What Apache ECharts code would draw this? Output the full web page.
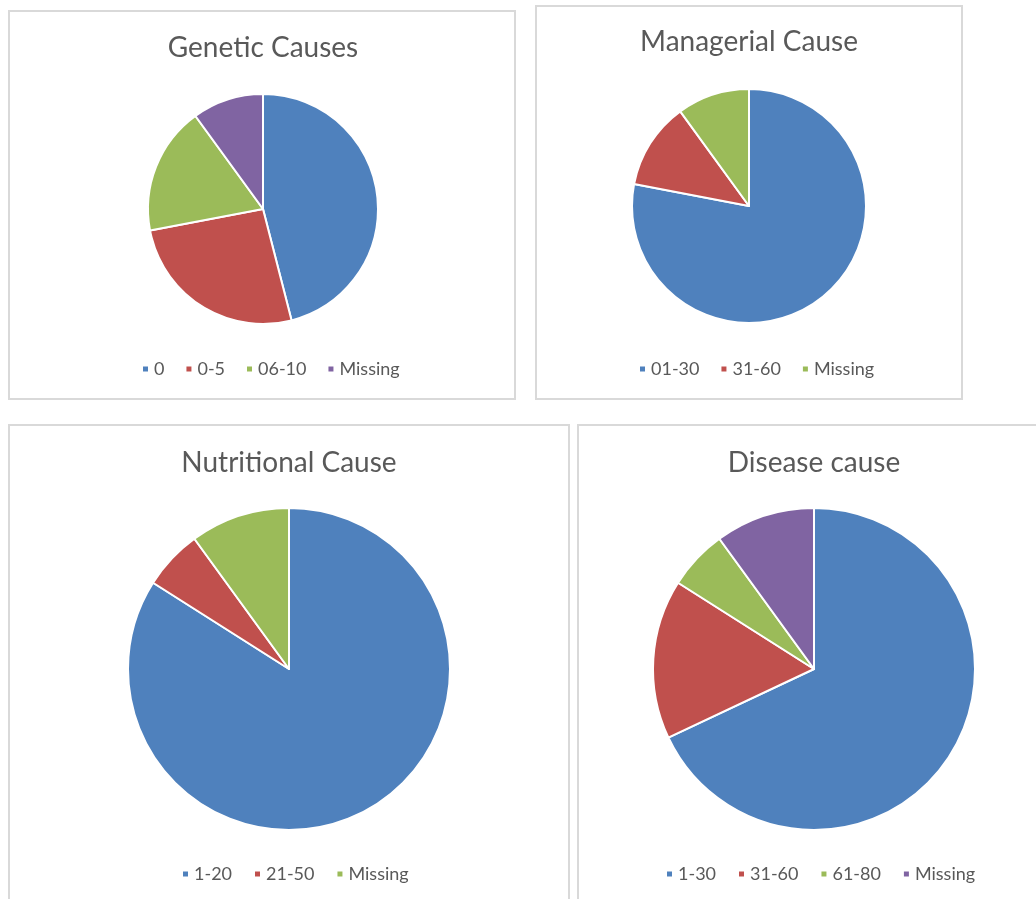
<!DOCTYPE html>
<html>
<head>
<meta charset="utf-8">
<title>Causes</title>
<script src="https://cdn.jsdelivr.net/npm/echarts@6/dist/echarts.min.js"></script>
<style>
  html, body { margin: 0; padding: 0; background: #ffffff; overflow: hidden; }
  body { width: 1036px; height: 899px; position: relative; }
  .frame { position: absolute; box-sizing: border-box; border: 2px solid #d9d9d9; }
  .chart { position: absolute; }
</style>
</head>
<body>
<div class="frame" style="left:8px;top:10px;width:508px;height:390px"></div>
<div class="frame" style="left:535px;top:5px;width:428px;height:395px"></div>
<div class="frame" style="left:8px;top:424px;width:562px;height:500px"></div>
<div class="frame" style="left:577px;top:424px;width:480px;height:500px"></div>

<div id="genetic" class="chart" style="left:8px;top:10px;width:508px;height:390px"></div>
<div id="managerial" class="chart" style="left:535px;top:5px;width:428px;height:395px"></div>
<div id="nutritional" class="chart" style="left:8px;top:424px;width:562px;height:475px"></div>
<div id="disease" class="chart" style="left:577px;top:424px;width:459px;height:475px"></div>

<script>
// Category labels and shares (%) for each pie
const geneticCats = ['0', '0-5', '06-10', 'Missing'];
const geneticVals = [46, 26, 18, 10];

const managerialCats = ['01-30', '31-60', 'Missing'];
const managerialVals = [78, 12, 10];

const nutritionalCats = ['1-20', '21-50', 'Missing'];
const nutritionalVals = [84, 6, 10];

const diseaseCats = ['1-30', '31-60', '61-80', 'Missing'];
const diseaseVals = [68, 16, 6, 10];

// Office-style palette
const BLUE = '#4f81bd', RED = '#c0504d', GREEN = '#9bbb59', PURPLE = '#8064a2';
const FONT = 'Lato, "Liberation Sans", sans-serif';
const TEXT = '#595959';

function buildPie(el, opts) {
  const chart = echarts.init(document.getElementById(el), null, { renderer: 'canvas' });
  const data = opts.cats.map((c, i) => ({
    name: c,
    value: opts.vals[i],
    itemStyle: { color: opts.colors[i] }
  }));
  chart.setOption({
    animation: false,
    title: {
      text: opts.title,
      left: opts.cx,
      textAlign: 'center',
      top: opts.titleY - 14,
      padding: 0,
      textStyle: { fontFamily: FONT, fontSize: 28, lineHeight: 28, fontWeight: 'normal', color: TEXT }
    },
    legend: {
      left: opts.legendX,
      top: opts.legendY - 9,
      padding: 0,
      icon: 'rect',
      itemWidth: 7,
      itemHeight: 7,
      itemGap: opts.gap,
      selectedMode: false,
      textStyle: { fontFamily: FONT, fontSize: 18, lineHeight: 18, color: TEXT },
      data: opts.cats.map((c, i) => ({ name: c, itemStyle: { color: opts.colors[i] } }))
    },
    series: [{
      type: 'pie',
      center: [opts.cx, opts.cy],
      radius: opts.r,
      startAngle: 90,
      clockwise: true,
      avoidLabelOverlap: false,
      label: { show: false },
      labelLine: { show: false },
      emphasis: { disabled: true },
      itemStyle: { borderColor: '#ffffff', borderWidth: 2 },
      data: data
    }]
  });
  return chart;
}

buildPie('genetic', {
  title: 'Genetic Causes', cats: geneticCats, vals: geneticVals,
  colors: [BLUE, RED, GREEN, PURPLE],
  cx: 255, cy: 199, r: 115, titleY: 38, legendX: 133, legendY: 359, gap: 20
});
buildPie('managerial', {
  title: 'Managerial Cause', cats: managerialCats, vals: managerialVals,
  colors: [BLUE, RED, GREEN],
  cx: 214, cy: 201, r: 117, titleY: 37, legendX: 103, legendY: 364, gap: 20
});
buildPie('nutritional', {
  title: 'Nutritional Cause', cats: nutritionalCats, vals: nutritionalVals,
  colors: [BLUE, RED, GREEN],
  cx: 281, cy: 245, r: 161, titleY: 39, legendX: 173, legendY: 450, gap: 21
});
buildPie('disease', {
  title: 'Disease cause', cats: diseaseCats, vals: diseaseVals,
  colors: [BLUE, RED, GREEN, PURPLE],
  cx: 237, cy: 245, r: 161, titleY: 39, legendX: 88, legendY: 450, gap: 21
});
</script>
</body>
</html>
